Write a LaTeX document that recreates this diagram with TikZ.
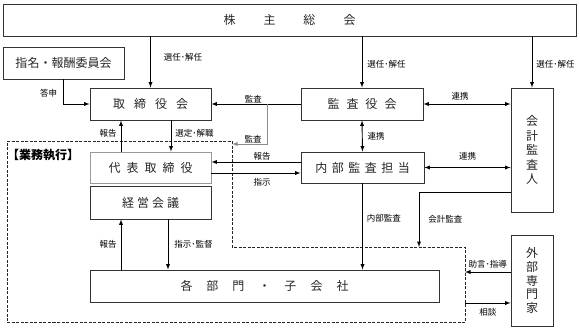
\documentclass[tikz,border=0pt]{standalone}
\usepackage{fontspec}
\setmainfont{Noto Sans CJK JP}

\tikzset{
  box/.style={rectangle, draw=black!80, line width=0.9pt, text centered, inner sep=0pt,
    text=black!85, minimum height=32pt, font=\fontsize{12}{14}\selectfont},
  arrow/.style={->, line width=0.9pt, >=latex},
  dblarrow/.style={<->, line width=0.9pt, >=latex},
  lbl/.style={font=\fontsize{8.5}{10}\selectfont, inner sep=1pt},
  gyomu/.style={draw=black!85, line width=1pt, dash pattern=on 3pt off 1.5pt},
}

\begin{document}
\begin{tikzpicture}[x=1pt, y=-1pt]
  \useasboundingbox (0,0) rectangle (580,335);

  % 業務執行の範囲（破線）
  \draw[gyomu] (7,141) -- (232,141) -- (232,247) -- (465,247) -- (465,322) -- (7,322) -- cycle;
  \node[anchor=west, inner sep=0pt, font=\bfseries\fontsize{12}{14}\selectfont] (gyomu) at (7,155) {【業務執行】};

  % 上段：株主総会
  \node[box, minimum width=573pt] (sh) at (289.5,20) {株\hspace{28pt}主\hspace{28pt}総\hspace{28pt}会};

  % 機関
  \node[box, minimum width=121pt] (nom)   at (63.5,63)  {指名・報酬委員会};
  \node[box, minimum width=121pt] (bod)   at (150.5,104) {取\hspace{9pt}締\hspace{9pt}役\hspace{9pt}会};
  \node[box, minimum width=122pt] (kansa) at (362,104)   {監\hspace{7pt}査\hspace{7pt}役\hspace{7pt}会};
  \node[box, minimum width=42pt, minimum height=124pt, align=center,
        font=\fontsize{12}{14.5}\selectfont] (kaikei) at (532,150) {会\\計\\監\\査\\人};

  % 業務執行側
  \node[box, minimum width=121pt, minimum height=31pt, draw=black!40] (ceo) at (150.5,167.5)
    {代\hspace{6pt}表\hspace{6pt}取\hspace{6pt}締\hspace{6pt}役};
  \node[box, minimum width=121pt, minimum height=33pt] (keiei) at (150.5,202.5)
    {経\hspace{3pt}営\hspace{3pt}会\hspace{3pt}議};
  \node[box, minimum width=123pt, minimum height=31pt] (naibu) at (362.5,167.5)
    {内\hspace{4.5pt}部\hspace{4.5pt}監\hspace{4.5pt}査\hspace{4.5pt}担\hspace{4.5pt}当};
  \node[box, minimum width=349pt] (bumon) at (264.5,286)
    {各\hspace{14pt}部\hspace{14pt}門\hspace{14pt}・\hspace{14pt}子\hspace{14pt}会\hspace{14pt}社};
  \node[box, minimum width=42pt, minimum height=91pt, align=center,
        font=\fontsize{12}{13.75}\selectfont] (gaibu) at (532,280.5) {外\\部\\専\\門\\家};

  % 株主総会 → 選任・解任
  \draw[arrow] (sh.south -| bod.north) -- node[lbl, right=12pt, pos=0.4] {選任･解任} (bod.north);
  \draw[arrow] (sh.south -| kansa.north) -- node[lbl, right=4pt, pos=0.55] {選任･解任} (kansa.north);
  \draw[arrow] (sh.south -| kaikei.north) -- node[lbl, right=3pt, pos=0.55] {選任･解任} (kaikei.north);

  % 指名・報酬委員会 → 取締役会
  \draw[arrow] (nom.south) |- node[lbl, left=5pt, pos=0.28] {答申} (bod.west);

  % 監査役会 → 取締役会・業務執行
  \draw[arrow] (kansa.west) -- node[lbl, above, pos=0.53] {監査} (bod.east);
  \coordinate (kansaTap) at (267,104);
  \coordinate (kansaIn)  at (232,144);
  \draw[arrow, black!45] (kansaTap) |- node[lbl, black, above, pos=0.7] {監査} (kansaIn);

  % 取締役会 ↔ 代表取締役
  \draw[arrow] ([xshift=-29.5pt]ceo.north) -- node[lbl, left=3pt, pos=0.6] {報告}
               ([xshift=-29.5pt]bod.south);
  \draw[arrow] ([xshift=20.5pt]bod.south) -- node[lbl, right=3pt, pos=0.4] {選定･解職}
               ([xshift=20.5pt]ceo.north);

  % 内部監査担当 ↔ 代表取締役
  \draw[arrow] ([yshift=5.5pt]naibu.west) -- node[lbl, above, pos=0.43] {報告}
               ([yshift=5.5pt]ceo.east);
  \draw[arrow] ([yshift=-5.5pt]ceo.east) -- node[lbl, below=4pt, pos=0.57] {指示}
               ([yshift=-5.5pt]naibu.west);

  % 連携
  \draw[dblarrow] (kansa.south) -- node[lbl, right=4pt] {連携} (naibu.north);
  \draw[dblarrow] (kansa.east) -- node[lbl, above=2pt, pos=0.42] {連携} (kansa.east -| kaikei.west);
  \draw[dblarrow] (naibu.east) -- node[lbl, above=6pt] {連携} (naibu.east -| kaikei.west);

  % 内部監査・会計監査
  \draw[arrow] (naibu.south) -- node[lbl, right=3pt, pos=0.4] {内部監査} (naibu.south |- bumon.north);
  \coordinate (kaikeiIn) at (419,247);
  \draw[arrow] ([yshift=-42pt]kaikei.west) -| node[lbl, right=8pt, pos=0.75] {会計監査} (kaikeiIn);

  % 経営会議 ↔ 各部門・子会社
  \draw[arrow] ([xshift=-143.5pt]bumon.north) -- node[lbl, left=3pt] {報告}
               ([xshift=-29.5pt]keiei.south);
  \draw[arrow] ([xshift=17.5pt]keiei.south) -- node[lbl, right=5pt] {指示･監督}
               ([xshift=-96.5pt]bumon.north);

  % 外部専門家
  \coordinate (adviceIn)   at (465,272);
  \coordinate (consultOut) at (465,303);
  \draw[arrow] ([yshift=8.5pt]gaibu.west) -- node[lbl, above=2pt] {助言･指導} (adviceIn);
  \draw[arrow] (consultOut) -- node[lbl, below=4pt] {相談} ([yshift=-22.5pt]gaibu.west);

\end{tikzpicture}
\end{document}
